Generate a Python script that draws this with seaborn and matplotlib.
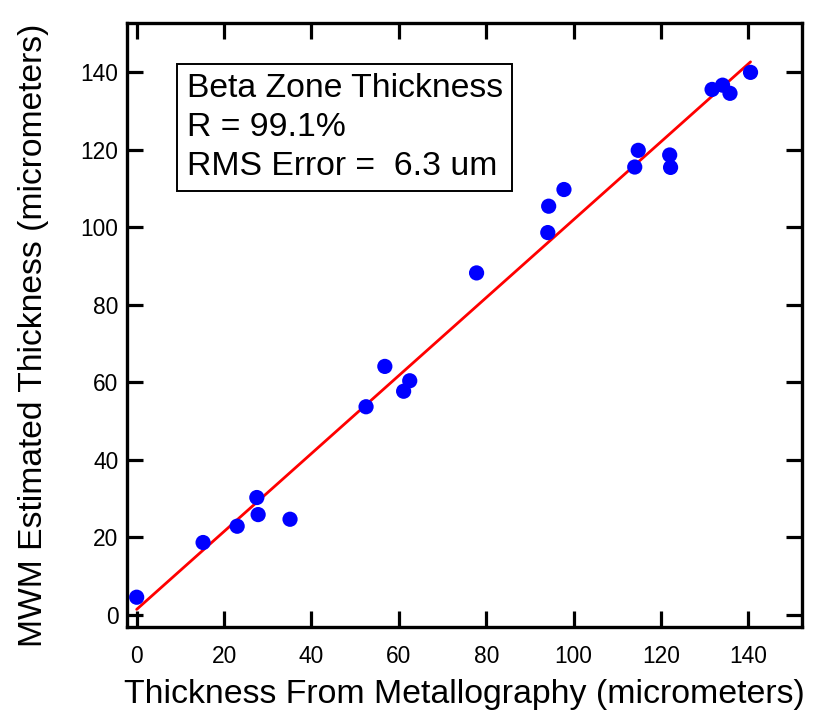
import pandas as pd
import matplotlib
matplotlib.use("Agg")
import matplotlib.pyplot as plt
import seaborn as sns

# values
metallography_um = [0.0, 15.2, 23.0, 27.5, 27.8, 35.1, 52.5, 56.8, 61.1, 62.5, 77.8,
                    94.1, 94.3, 97.8, 114.0, 114.8, 122.0, 122.2, 131.7, 134.1, 135.8, 140.5]
mwm_estimate_um = [4.6, 18.7, 22.9, 30.3, 25.9, 24.7, 53.7, 64.1, 57.7, 60.4, 88.2,
                   98.6, 105.4, 109.7, 115.5, 119.8, 118.6, 115.4, 135.5, 136.6, 134.5, 139.9]
tick_values = [0, 20, 40, 60, 80, 100, 120, 140]
box_lines = ["Beta Zone Thickness", "R = 99.1%", "RMS Error =  6.3 um"]

df = pd.DataFrame({"metallography": metallography_um, "mwm": mwm_estimate_um})

sns.set_theme(style="ticks")
plt.rcParams["font.family"] = ["Liberation Sans", "DejaVu Sans"]
plt.rcParams["text.color"] = "black"
plt.rcParams["axes.labelcolor"] = "black"

fig = plt.figure(figsize=(8.18, 7.12), dpi=100)
ax = fig.add_axes([0.1556, 0.1198, 0.8244, 0.8483])

# fit line first, points on top
sns.regplot(data=df, x="metallography", y="mwm", scatter=False, ci=None,
            color="red", line_kws={"linewidth": 2.0}, ax=ax)
sns.scatterplot(data=df, x="metallography", y="mwm", color="blue", s=120,
                edgecolor="none", ax=ax, zorder=3)

ax.set_xlim(-2.15, 152.2)
ax.set_ylim(-3.0, 152.7)
ax.set_xticks(tick_values)
ax.set_yticks(tick_values)

ax.tick_params(direction="in", length=11.5, width=2.3, top=True, right=True,
               labelsize=16.4, colors="black")
ax.tick_params(axis="x", pad=13)
ax.tick_params(axis="y", pad=6.5)
for sp in ax.spines.values():
    sp.set_linewidth(2.4)
    sp.set_color("black")
    sp.set_visible(True)

ax.set_xlabel("Thickness From Metallography (micrometers)", fontsize=24.4, labelpad=8)
ax.set_ylabel("MWM Estimated Thickness (micrometers)", fontsize=24.2)
ax.yaxis.set_label_coords(-0.116, 0.483)

ax.text(0.088, 0.9165, "\n".join(box_lines), transform=ax.transAxes,
        fontsize=24.3, va="top", ha="left", linespacing=1.32,
        bbox=dict(boxstyle="square,pad=0.28", facecolor="white",
                  edgecolor="black", linewidth=1.4))

fig.savefig("out.png", dpi=100)
